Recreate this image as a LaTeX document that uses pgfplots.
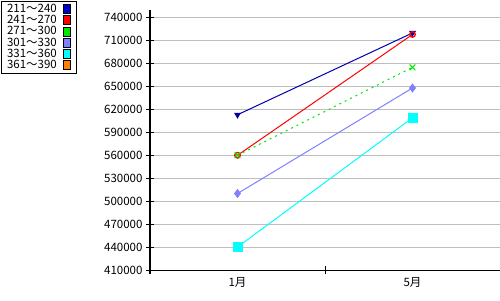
\documentclass[border=0pt]{standalone}
\usepackage{pgfplots}
\pgfplotsset{compat=1.18}
\usepackage{fontspec}
\setmainfont{Noto Sans CJK JP}
\definecolor{c1}{RGB}{0,0,204}
\definecolor{c2}{RGB}{255,0,0}
\definecolor{c3}{RGB}{0,230,0}
\definecolor{c4}{RGB}{128,128,255}
\definecolor{c5}{RGB}{0,255,255}
\definecolor{c6}{RGB}{255,128,0}
\definecolor{gridc}{RGB}{190,190,190}
\begin{document}
\begin{tikzpicture}[x=1pt,y=1pt]
\useasboundingbox (0,0) rectangle (500,300);
\begin{axis}[
  at={(150pt,30pt)}, anchor=south west,
  scale only axis, width=350pt, height=260pt,
  xmin=0, xmax=2, ymin=410000, ymax=750000,
  scaled y ticks=false,
  axis x line*=bottom, axis y line*=left,
  axis line style={-, black, line width=1pt},
  xtick={0,1,2}, xticklabels={1月,5月}, x tick label as interval=true,
  ytick={410000,440000,...,740000},
  tick align=center, major tick length=8pt,
  tick style={black, line width=1pt},
  ymajorgrids, grid style={gridc, line width=1pt},
  ticklabel style={font=\fontsize{11.5}{12}\selectfont},
  yticklabel style={/pgf/number format/.cd, fixed, precision=0, 1000 sep={}, assume math mode=true},
  legend plot pos=right,
  legend cell align=left,
  legend image code/.code={\path (0pt,0pt) (13pt,0pt); \draw[#1,draw=black,line width=0.8pt] (4pt,-4.5pt) rectangle (11pt,4.5pt);},
  legend style={at={(-0.4271,1.0365)}, anchor=north west, draw=black, line width=1pt,
    font=\fontsize{11.5}{11.5}\selectfont, row sep=-2.7pt, inner xsep=4pt, inner ysep=1.2pt},
]
\addplot[forget plot, c1!85!black, line width=1pt, mark=triangle*, mark options={rotate=180}, mark size=3pt] coordinates {(0.5,613000) (1.5,720000)};
\addplot[forget plot, c2, line width=1pt, mark=o, mark options={line width=1.3pt}, mark size=2.8pt] coordinates {(0.5,560000) (1.5,718000)};
\addplot[forget plot, c3, line width=1pt, dash pattern=on 2pt off 4pt, mark=x, mark options={solid}, mark size=4pt] coordinates {(0.5,560000) (1.5,675000)};
\addplot[forget plot, c4, line width=1pt, mark=diamond*, mark size=3.8pt] coordinates {(0.5,510000) (1.5,648000)};
\addplot[forget plot, c5, line width=1pt, mark=square*, mark size=4.5pt] coordinates {(0.5,440000) (1.5,609000)};
\addlegendimage{fill=c1}\addlegendentry{211～240}
\addlegendimage{fill=c2}\addlegendentry{241～270}
\addlegendimage{fill=c3}\addlegendentry{271～300}
\addlegendimage{fill=c4}\addlegendentry{301～330}
\addlegendimage{fill=c5}\addlegendentry{331～360}
\addlegendimage{fill=c6}\addlegendentry{361～390}
\end{axis}
\end{tikzpicture}
\end{document}
